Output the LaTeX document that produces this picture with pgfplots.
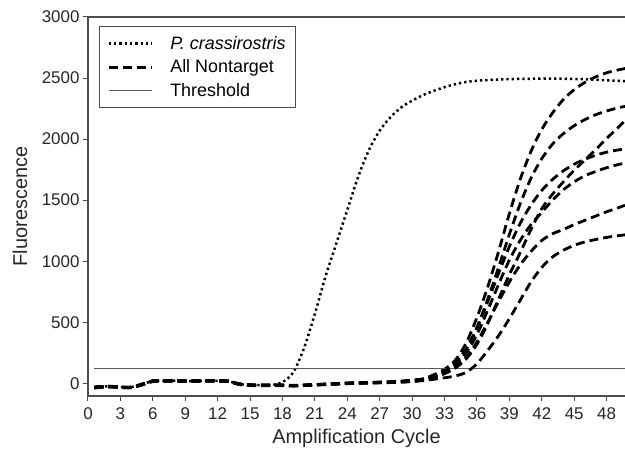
\documentclass[border=0pt]{standalone}
\usepackage{fontspec}
\setmainfont{Liberation Sans}
\usepackage{pgfplots}
\usepackage{pgfplotstable}
\pgfplotsset{compat=1.18}
\pgfplotstableread{
x p a b cc d e f g
0.6 -35 -35 -30 -40 -36 -31 -38 -33
1 -30 -30 -28 -35 -32 -28 -33 -30
2 -24 -27 -24 -30 -27 -25 -29 -26
3 -30 -33 -30 -35 -33 -30 -34 -31
4 -31 -34 -31 -36 -34 -32 -35 -33
5 -8 -12 -6 -14 -10 -7 -12 -9
6 18 17 20 14 18 20 16 19
7 20 19 21 17 20 22 18 20
8 21 20 22 18 21 23 19 21
9 18 18 20 15 18 20 16 19
10 19 18 21 16 19 21 17 20
11 21 20 23 18 21 23 19 22
12 20 19 22 17 20 22 18 21
13 17 16 19 14 17 19 15 18
14 -6 -8 -4 -10 -7 -5 -9 -6
15 -14 -15 -12 -18 -15 -13 -16 -14
16 -16 -17 -14 -20 -17 -15 -18 -16
17 -14 -16 -13 -19 -16 -14 -17 -15
18 10 -16 -14 -20 -17 -15 -18 -16
19 90 -19 -17 -22 -19 -18 -20 -19
20 290 -16 -14 -19 -16 -15 -17 -16
21 570 -12 -10 -15 -12 -11 -13 -12
22 880 -8 -6 -11 -8 -7 -9 -8
23 1150 -4 -2 -7 -4 -3 -5 -4
24 1420 0 2 -3 0 1 -1 0
25 1690 3 5 0 3 4 2 3
26 1910 5 8 2 5 6 4 4
27 2070 7 10 4 7 8 6 5
28 2180 10 13 6 10 11 8 7
29 2260 15 18 10 15 16 12 10
30 2315 22 25 16 22 23 18 14
31 2360 35 36 26 34 33 28 22
32 2395 70 60 50 60 55 50 33
33 2425 115 100 80 100 90 80 45
34 2450 190 165 125 170 150 130 60
35 2468 330 280 200 280 250 210 90
36 2478 540 460 320 450 400 340 160
37 2484 790 690 490 670 600 500 270
38 2488 1080 950 690 900 810 670 390
39 2491 1390 1220 890 1120 1010 830 530
40 2493 1670 1470 1070 1310 1170 970 680
41 2494 1900 1680 1260 1460 1300 1080 830
42 2495 2080 1840 1430 1580 1400 1170 950
43 2495 2215 1960 1550 1670 1500 1225 1035
44 2494 2325 2045 1650 1740 1585 1260 1090
45 2492 2405 2110 1745 1795 1650 1300 1130
46 2490 2465 2160 1830 1835 1700 1335 1158
47 2486 2510 2200 1915 1868 1735 1370 1178
48 2482 2543 2230 2005 1893 1765 1405 1195
49 2478 2565 2255 2090 1910 1790 1435 1208
49.7 2475 2578 2268 2150 1918 1803 1458 1216
}\data
\begin{document}
\begin{tikzpicture}
\begin{axis}[name=ax, scale only axis, width=537bp, height=379bp,
  xmin=0, xmax=49.7, ymin=-104, ymax=3000,
  axis x line*=bottom, axis y line*=left,
  xtick={0,3,...,48}, ytick={0,500,...,3000},
  tick align=outside, major tick length=5bp,
  tick style={black!70, line width=1bp},
  axis line style={black!70, line width=1.2bp},
  /pgf/number format/assume math mode=true,
  scaled y ticks=false, /pgf/number format/1000 sep={},
  tick label style={font=\fontsize{17}{20}\selectfont, black!85},
  x tick label style={yshift=-3bp},
  xlabel={Amplification Cycle}, ylabel={Fluorescence},
  label style={font=\fontsize{20}{24}\selectfont, black!85},
  xlabel style={at={(axis description cs:0.5,-0.1108)}, anchor=center},
  ylabel style={at={(axis description cs:-0.1266,0.5)}, anchor=center},
  legend style={at={(axis description cs:0,1)}, anchor=north west, xshift=11bp, yshift=-9bp,
    draw=black!70, line width=1bp, font=\fontsize{18}{21}\selectfont,
    inner xsep=8bp, inner ysep=8bp, row sep=5bp, cells={anchor=west}},
  legend image code/.code={\draw[#1] (0bp,0bp) -- (43bp,0bp); \path (58bp,0bp);},
  legend cell align=left,
]
\addplot[black, line width=2.5bp, dash pattern=on 2.3bp off 3bp, smooth] table[x=x,y=p]{\data};
\addlegendentry{\textit{P. crassirostris}}
\addplot[black, line width=2.8bp, dash pattern=on 9bp off 5bp, smooth] table[x=x,y=a]{\data};
\addlegendentry{All Nontarget}
\addplot[black!65, line width=1bp] coordinates {(0.6,123) (49.7,123)};
\addlegendentry{Threshold}
\addplot[black, line width=2.8bp, dash pattern=on 9bp off 5bp, smooth, forget plot] table[x=x,y=b]{\data};
\addplot[black, line width=2.8bp, dash pattern=on 9bp off 5bp, smooth, forget plot] table[x=x,y=cc]{\data};
\addplot[black, line width=2.8bp, dash pattern=on 9bp off 5bp, smooth, forget plot] table[x=x,y=d]{\data};
\addplot[black, line width=2.8bp, dash pattern=on 9bp off 5bp, smooth, forget plot] table[x=x,y=e]{\data};
\addplot[black, line width=2.8bp, dash pattern=on 9bp off 5bp, smooth, forget plot] table[x=x,y=f]{\data};
\addplot[black, line width=2.8bp, dash pattern=on 9bp off 5bp, smooth, forget plot] table[x=x,y=g]{\data};
\draw[black!70, line width=1.2bp] (rel axis cs:0,1) -- (rel axis cs:1,1);
\end{axis}
\pgfresetboundingbox
\path ([shift={(-88bp,-65bp)}]ax.south west) rectangle ([shift={(0bp,17bp)}]ax.north east);
\end{tikzpicture}
\end{document}
